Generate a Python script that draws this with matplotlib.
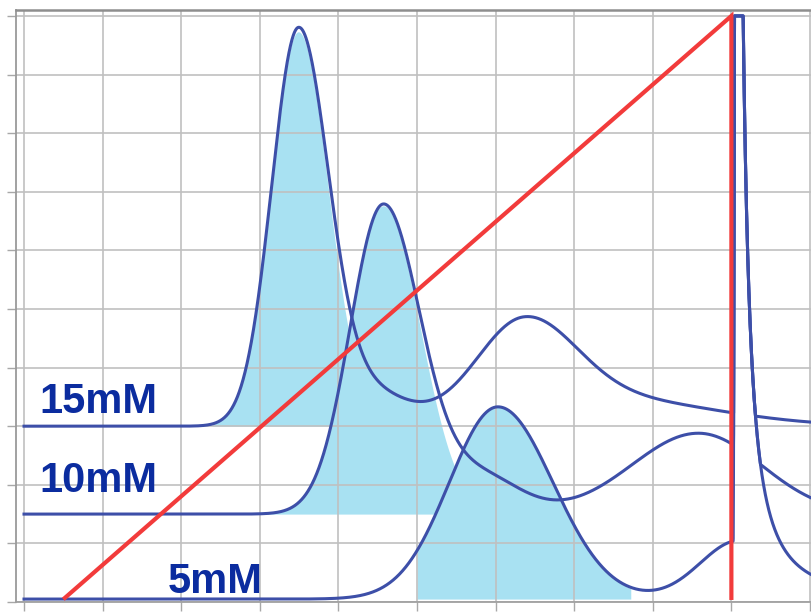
import numpy as np
import matplotlib
matplotlib.use("Agg")
import matplotlib.pyplot as plt

# ---------------- data ----------------
labels = ["15mM", "10mM", "5mM"]
baselines = [3.0, 1.5, 0.05]
label_x = [0.20, 0.20, 1.83]
label_y = [3.23, 1.88, 0.15]

# peak components: centre, height above baseline, sigma left / right
c15_center = [3.49, 4.40, 6.35, 7.50]
c15_height = [6.73, 0.55, 1.56, 0.45]
c15_sig_l = [0.34, 0.45, 0.60, 1.30]
c15_sig_r = [0.38, 0.45, 0.66, 1.30]

c10_center = [4.57, 5.80, 8.58]
c10_height = [5.26, 0.65, 1.38]
c10_sig_l = [0.42, 0.50, 0.85]
c10_sig_r = [0.47, 0.50, 0.80]

c5_center = [6.03, 9.10]
c5_height = [3.28, 1.00]
c5_sig_l = [0.62, 0.50]
c5_sig_r = [0.70, 0.50]

# shaded (collected) peak of each trace and its x-range
fill_component = [0, 0, 0]
fill_start = [2.40, 3.00, 5.00]
fill_end = [4.60, 5.50, 7.72]

# common (saturated) salt spike at the end of the gradient
spike_start = 9.00
spike_scale = 0.479
spike_power = 1.6
spike_rise_center = 9.045
spike_rise_width = 0.010
saturation = 10.0

# salt gradient (red line)
gradient_x = [0.52, 9.00, 9.00]
gradient_y = [0.07, 10.00, 0.07]

# ---------------- styling ----------------
LINE = "#3d4fa8"
FILL = "#a8e1f2"
RED = "#f23b3b"
TXT = "#0b2c9f"
GRID = "#c0c0c0"

x = np.linspace(0.0, 10.05, 6000)


def bigauss(xv, c, h, sl, sr):
    s = np.where(xv < c, sl, sr)
    return h * np.exp(-0.5 * ((xv - c) / s) ** 2)


def components(center, height, sl, sr):
    return [bigauss(x, c, h, a, b) for c, h, a, b in zip(center, height, sl, sr)]


dx = np.clip(x - spike_start, 1e-6, None)
spike_tail = spike_scale / dx ** spike_power
spike_rise = 12.0 * np.exp(-0.5 * ((x - spike_rise_center) / spike_rise_width) ** 2)
spike = np.where(x < spike_rise_center, spike_rise, spike_tail)

comp_sets = [
    components(c15_center, c15_height, c15_sig_l, c15_sig_r),
    components(c10_center, c10_height, c10_sig_l, c10_sig_r),
    components(c5_center, c5_height, c5_sig_l, c5_sig_r),
]

fig = plt.figure(figsize=(8.11, 6.13), dpi=100)
ax = fig.add_axes([16 / 811, 11 / 613, 795 / 811, 592.5 / 613])
ax.set_xlim(-0.102, 10.013)
ax.set_ylim(0.0, 10.11)

for base, comps, fi, fs, fe in zip(baselines, comp_sets, fill_component, fill_start, fill_end):
    own = base + np.sum(comps, axis=0)
    y = np.minimum(np.maximum(own, spike), saturation)
    mask = (x >= fs) & (x <= fe)
    ax.fill_between(x, base, base + comps[fi], where=mask, color=FILL, lw=0, zorder=1)
    ax.plot(x, y, color=LINE, lw=2.2, zorder=2, solid_joinstyle="round")

ax.plot(gradient_x, gradient_y, color=RED, lw=3.0, zorder=3, solid_joinstyle="miter")

for t, tx, ty in zip(labels, label_x, label_y):
    ax.text(tx, ty, t, color=TXT, fontsize=30, fontweight="bold",
            family=["Liberation Sans", "DejaVu Sans"], ha="left", va="baseline", zorder=4)

ax.set_xticks(range(0, 11))
ax.set_yticks(range(0, 11))
ax.set_xticklabels([])
ax.set_yticklabels([])
ax.tick_params(direction="out", length=6.5, width=1.0, color="#a8a8a8")
ax.set_axisbelow("line")
ax.grid(True, color=GRID, lw=1.2)
ax.spines["right"].set_visible(False)
ax.spines["top"].set_color("#8e8e8e")
ax.spines["top"].set_linewidth(1.8)
ax.spines["left"].set_color("#9a9a9a")
ax.spines["left"].set_linewidth(1.3)
ax.spines["bottom"].set_color("#a0a0a0")
ax.spines["bottom"].set_linewidth(1.3)

fig.savefig("out.png", dpi=100)
